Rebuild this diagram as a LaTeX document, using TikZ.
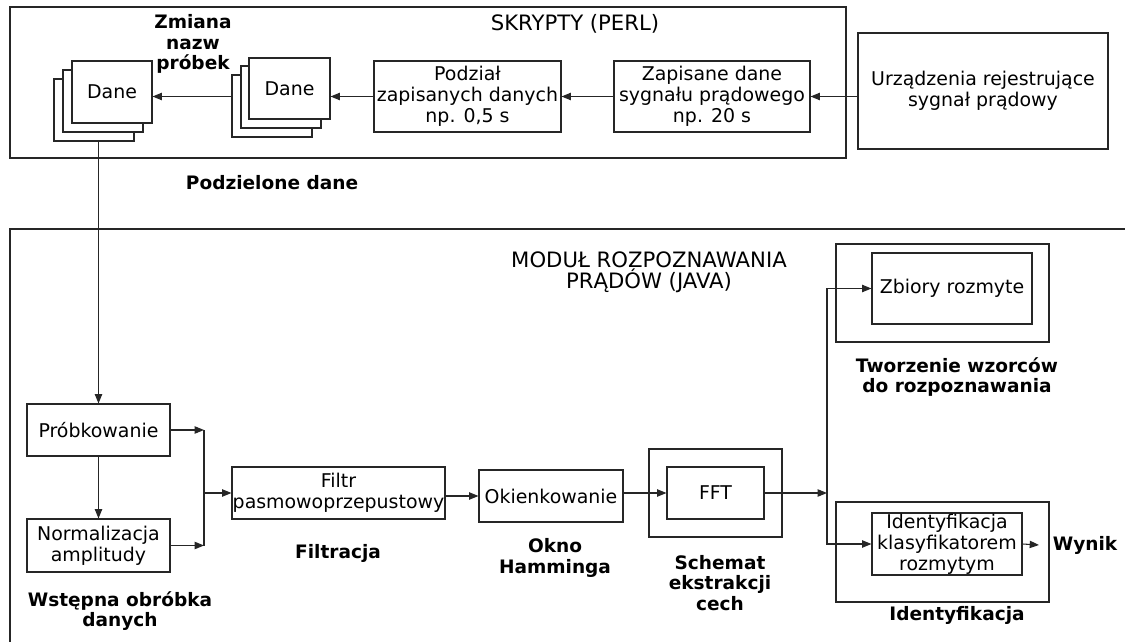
\documentclass[tikz,border=0pt]{standalone}
\usepackage{fontspec}
\setmainfont{DejaVu Sans}
\usepackage{tikz}
\usetikzlibrary{arrows.meta}
\newcommand\boxtxt{\fontsize{14.2}{15.75}\selectfont}
\newcommand\lbltxt{\bfseries\fontsize{13.9}{15.4}\selectfont}
\newcommand\ttltxt{\fontsize{15.9}{15.75}\selectfont}

\begin{document}
\begin{tikzpicture}[x=0.75pt,y=-0.75pt,
  span/.style args={#1/#2/#3/#4}{at={({(#1+#3)/2},{(#2+#4)/2})},
    minimum width={(#3-#1)*0.75pt},minimum height={(#4-#2)*0.75pt}},
  box/.style={draw=black!85,line width=0.8pt,fill=white,inner sep=0pt,align=center,font=\boxtxt},
  frame/.style={draw=black!85,line width=0.8pt,inner sep=0pt},
  lbl/.style={inner sep=0pt,align=center,font=\lbltxt},
  ttl/.style={inner sep=0pt,align=center,font=\ttltxt},
  ln/.style={draw=black!85,line width=0.8pt},
  arr/.style={ln,-{Triangle[length=7pt,width=5.5pt]}}]
\clip (0,0) rectangle (1125,642);

%Shape: Frames
\node[frame,span=10/7/846/158] (skr) {};
\node[frame,span=10/229/1160/680] (mod) {};
\node[frame,span=649/449/782/537] (fftf) {};
\node[frame,span=836/244/1049/342] (twf) {};
\node[frame,span=836/502/1049/602] (idf) {};

%Shape: Boxes (skrypty)
\node[box,span=858/33/1108/149] (urz) {Urządzenia rejestrujące\\sygnał prądowy};
\node[box,span=614/61/810/132] (zap) {Zapisane dane\\sygnału prądowego\\np. 20 s};
\node[box,span=374/61/561/132] (pod) {Podział\\zapisanych danych\\np. 0,5 s};
\node[box,span=232/75/312/137] (dane2c) {};
\node[box,span=241/66/321/128] (dane2b) {};
\node[box,span=249/58/330/119] (dane2a) {Dane};
\node[box,span=54/79/134/141] (dane1c) {};
\node[box,span=63/70/143/132] (dane1b) {};
\node[box,span=72/61/152/123] (dane1a) {Dane};

%Shape: Boxes (modul)
\node[box,span=27/404/170/456] (prob) {Próbkowanie};
\node[box,span=27/519/170/572] (norm) {Normalizacja\\amplitudy};
\node[box,span=232/467/445/519] (filtr) {Filtr\\pasmowoprzepustowy};
\node[box,span=479/470/623/522] (okno) {Okienkowanie};
\node[box,span=667/467/764/519] (fft) {FFT};
\node[box,span=872/253/1032/324] (zb) {Zbiory rozmyte};
\node[box,span=872/513/1022/575] (ident) {Identyfikacja\\klasyfikatorem\\rozmytym};

% Text Node
\node[ttl] (skrt) at (575,24) {SKRYPTY (PERL)};
\node[lbl] (zmn) at (193,44) {Zmiana\\nazw\\próbek};
\node[lbl] (podz) at (272,183) {Podzielone dane};
\node[ttl] (modt) at (649,272) {MODUŁ ROZPOZNAWANIA\\PRĄDÓW (JAVA)};
\node[lbl] (wst) at (120,611) {Wstępna obróbka\\danych};
\node[lbl] (filtt) at (338,553) {Filtracja};
\node[lbl] (oknt) at (555,558) {Okno\\Hamminga};
\node[lbl] (scht) at (720,583) {Schemat\\ekstrakcji\\cech};
\node[lbl] (twt) at (957,377) {Tworzenie wzorców\\do rozpoznawania};
\node[lbl] (idt) at (957,615) {Identyfikacja};
\node[lbl] (wyn) at (1085,545) {Wynik};

%Straight Lines
\coordinate (jw) at (204,493);
\coordinate (jr) at (827,493);
\coordinate (wy) at (1039,545);
\draw[arr] (urz.west |- zap.east) -- (zap.east);
\draw[arr] (zap.west) -- (pod.east);
\draw[arr] (pod.west) -- (dane2a.east |- pod.west);
\draw[arr] (dane2c.west |- pod.west) -- (dane1a.east |- pod.west);
\draw[arr] (prob.north |- dane1c.south) -- (prob.north);
\draw[arr] (prob.south) -- (norm.north);
\draw[arr] (prob.east) -- (prob.east -| jw);
\draw[arr] (norm.east) -- (norm.east -| jw);
\draw[ln] (prob.east -| jw) -- (norm.east -| jw);
\draw[arr] (filtr.west -| jw) -- (filtr.west);
\draw[arr] (filtr.east |- okno.west) -- (okno.west);
\draw[arr] (okno.east |- fft.west) -- (fft.west);
\draw[arr] (fft.east) -- (jr);
\draw[arr] (jr) |- (zb.west);
\draw[arr] (jr) |- (ident.west);
\draw[arr] (ident.east) -- (wy);

\end{tikzpicture}
\end{document}
